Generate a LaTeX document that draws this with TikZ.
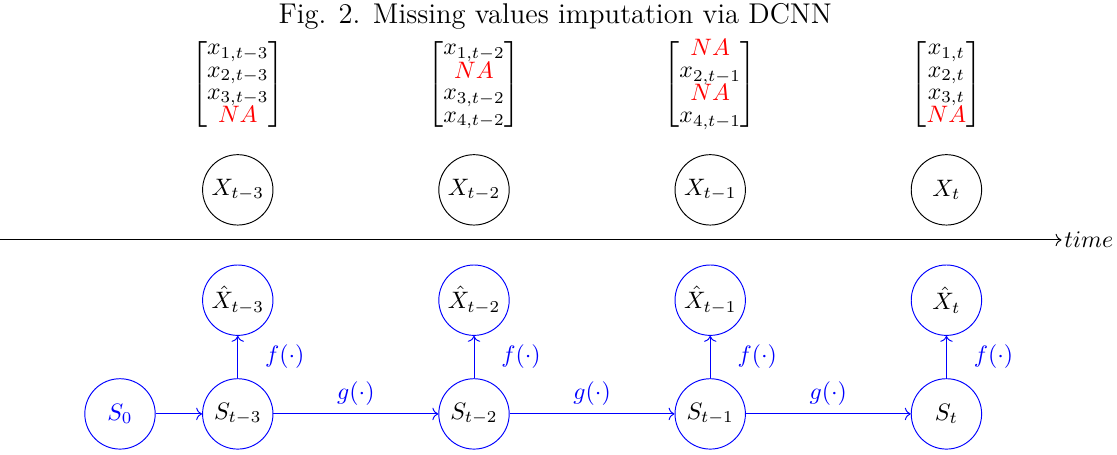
\documentclass[tikz,border=0pt]{standalone}
\usepackage{xcolor}
\usepackage{amsmath, amssymb}
\usepackage{tikz}
\usetikzlibrary{arrows.meta, positioning, calc}

\begin{document}
\begin{tikzpicture}[
		obs/.style={draw, circle, minimum size=1.04cm, inner sep=0pt},
		state/.style={draw=blue, circle, minimum size=1.04cm, inner sep=0pt},
		vec/.style={inner sep=0pt},
		flow/.style={->, blue}
	]
	\useasboundingbox (-1.773,-0.606) rectangle (14.73,6.115);

	% title
	\node[font=\large] (title) at (6.43,5.87) {Fig. 2. Missing values imputation via DCNN};

	% observed vectors
	\renewcommand{\arraystretch}{0.77}
	\node[vec] (v3) at (1.74,4.87) {$\begin{bmatrix} x_{1,t-3} \\ x_{2,t-3} \\ x_{3,t-3} \\ \color{red}NA \end{bmatrix}$};
	\node[vec] (v2) at (5.23,4.87) {$\begin{bmatrix} x_{1,t-2} \\ \color{red}NA \\ x_{3,t-2} \\ x_{4,t-2} \end{bmatrix}$};
	\node[vec] (v1) at (8.72,4.87) {$\begin{bmatrix} \color{red}NA \\ x_{2,t-1} \\ \color{red}NA \\ x_{4,t-1} \end{bmatrix}$};
	\node[vec] (v0) at (12.21,4.87) {$\begin{bmatrix} x_{1,t} \\ x_{2,t} \\ x_{3,t} \\ \color{red}NA \end{bmatrix}$};

	% observations
	\node[obs] (x3) at (1.74,3.31) {$X_{t-3}$};
	\node[obs] (x2) at (5.23,3.31) {$X_{t-2}$};
	\node[obs] (x1) at (8.72,3.31) {$X_{t-1}$};
	\node[obs] (x0) at (12.21,3.31) {$X_t$};

	% time axis
	\coordinate (t0) at (-1.773,2.57);
	\coordinate (t1) at (13.91,2.57);
	\draw[->] (t0) -- (t1) node[right, inner sep=1pt] (time) {$time$};

	% estimates
	\node[state] (h3) at (1.74,1.68) {$\hat{X}_{t-3}$};
	\node[state] (h2) at (5.23,1.68) {$\hat{X}_{t-2}$};
	\node[state] (h1) at (8.72,1.68) {$\hat{X}_{t-1}$};
	\node[state] (h0) at (12.21,1.68) {$\hat{X}_t$};

	% hidden states
	\node[state, text=blue] (s0) at (0,0) {$S_0$};
	\node[state] (s3) at (1.74,0) {$S_{t-3}$};
	\node[state] (s2) at (5.23,0) {$S_{t-2}$};
	\node[state] (s1) at (8.72,0) {$S_{t-1}$};
	\node[state] (st) at (12.21,0) {$S_t$};

	% transitions
	\draw[flow] (s0) -- (s3);
	\draw[flow] (s3) -- (s2) node[midway, above] {$g(\cdot)$};
	\draw[flow] (s2) -- (s1) node[midway, above] {$g(\cdot)$};
	\draw[flow] (s1) -- (st) node[midway, above] {$g(\cdot)$};

	% outputs
	\draw[flow] (s3) -- (h3) node[midway, right=0.28cm] {$f(\cdot)$};
	\draw[flow] (s2) -- (h2) node[midway, right=0.28cm] {$f(\cdot)$};
	\draw[flow] (s1) -- (h1) node[midway, right=0.28cm] {$f(\cdot)$};
	\draw[flow] (st) -- (h0) node[midway, right=0.28cm] {$f(\cdot)$};
\end{tikzpicture}
\end{document}
